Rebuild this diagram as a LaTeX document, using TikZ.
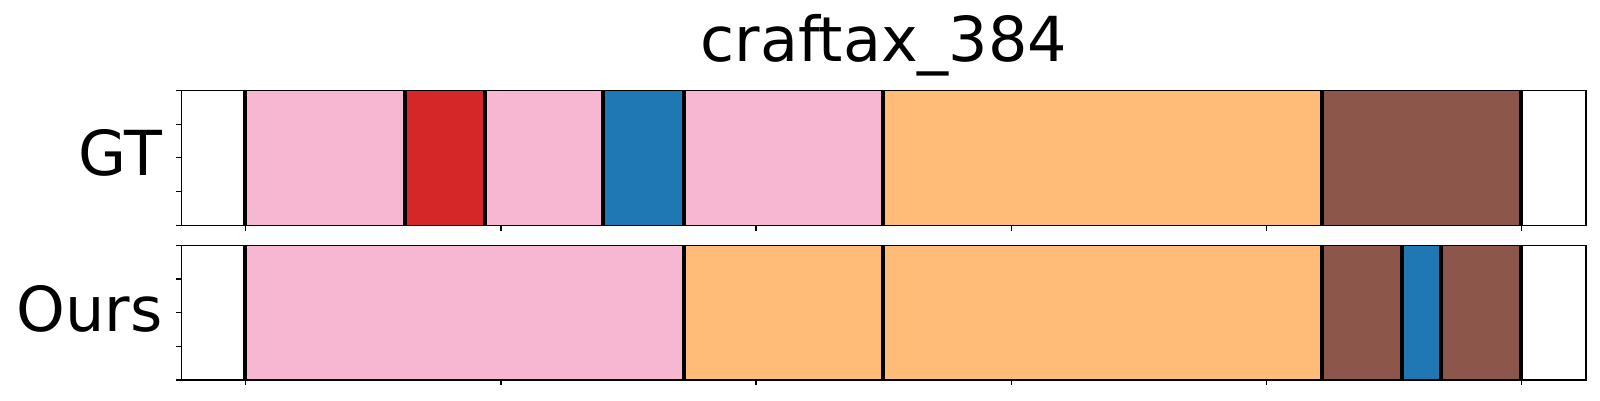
\documentclass[tikz,border=0pt]{standalone}
\usepackage{fontspec}
\setmainfont{DejaVu Sans}
\usepackage{tikz}
\usetikzlibrary{positioning, calc}
\definecolor{segpink}{HTML}{F7B6D2}
\definecolor{segred}{HTML}{D62728}
\definecolor{segblue}{HTML}{1F77B4}
\definecolor{segorange}{HTML}{FFBB78}
\definecolor{segbrown}{HTML}{8C564B}
\tikzstyle{frame} = [draw=black, line width=0.03cm]
\tikzstyle{cut} = [black, line width=0.08cm]
\tikzstyle{tick} = [black, line width=0.025cm]
\tikzstyle{label} = [font=\fontsize{35.3}{40}\selectfont, inner sep=0pt]

\begin{document}
\begin{tikzpicture}[x=0.02cm, y=-0.02cm]
    \useasboundingbox (0,0) rectangle (1600,400);
    %标题和行标签
    \node (title) [label, anchor=base] at (883.8,61.7) {craftax\_384};
    \node (gt) [label, anchor=base east] at (163,175) {GT};
    \node (ours) [label, anchor=base east] at (163,331.7) {Ours};

    %GT 分段
    \foreach \a/\b/\c in {244.7/405/segpink, 405/485/segred, 485/603.3/segpink, 603.3/683.7/segblue, 683.7/882.7/segpink, 882.7/1321.7/segorange, 1321.7/1520.7/segbrown}
        \fill [\c] (\a,90.3) rectangle (\b,225.3);
    \foreach \a in {244.7, 405, 485, 603.3, 683.7, 882.7, 1321.7, 1520.7}
        \draw [cut] (\a,90.3) -- (\a,225.3);

    %Ours 分段
    \foreach \a/\b/\c in {244.7/683.7/segpink, 683.7/1321.7/segorange, 1321.7/1401.7/segbrown, 1401.7/1440.7/segblue, 1440.7/1520.7/segbrown}
        \fill [\c] (\a,245.3) rectangle (\b,380);
    \foreach \a in {244.7, 683.7, 882.7, 1321.7, 1401.7, 1440.7, 1520.7}
        \draw [cut] (\a,245.3) -- (\a,380);

    %坐标轴和刻度
    \draw [frame] (181.7,90.3) rectangle (1586,225.3);
    \draw [frame] (181.7,245.3) rectangle (1586,380);
    \foreach \y in {90.3, 124.3, 157.8, 191.3, 225.3, 245.3, 279, 312.7, 346.3, 380}
        \draw [tick] (176,\y) -- (181.7,\y);
    \foreach \x in {245.7, 500.9, 756.1, 1011.3, 1266.5, 1521.7} {
        \draw [tick] (\x,225.3) -- (\x,230.7);
        \draw [tick] (\x,380) -- (\x,385.4);
    }
\end{tikzpicture}
\end{document}
